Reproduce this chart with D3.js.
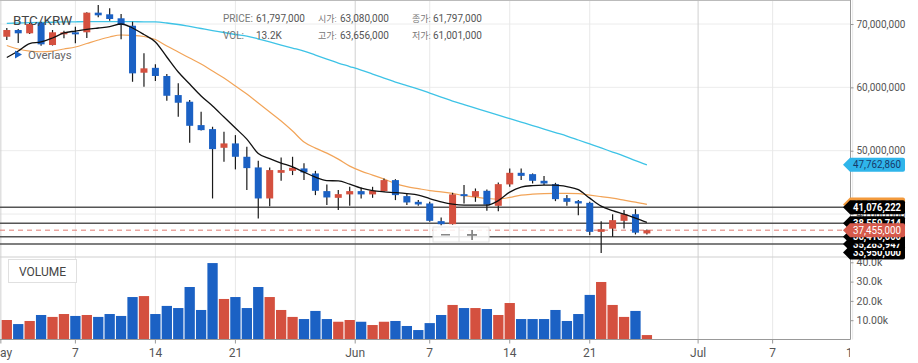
<!DOCTYPE html>
<html><head><meta charset="utf-8">
<script src="https://cdn.jsdelivr.net/npm/d3@7"></script>
<style>
body{margin:0;background:#fff;}
svg{display:block;font-family:Roboto,"Noto Sans CJK KR",sans-serif;}
</style>
</head><body>
<svg id="c" width="918" height="363"></svg>
<script>
// ---- data (prices in millions KRW, volume in thousands) ----
const openP  = [67.99,69.05,68.53,70.21,66.68,68.37,68.69,68.69,71.79,71.53,70.90,69.73,62.31,63.08,61.79,58.78,57.73,54.04,53.41,50.46,51.15,49.04,47.36,42.46,46.51,46.82,47.20,46.41,43.62,42.56,43.10,43.62,43.10,43.62,45.36,42.83,41.93,41.67,38.88,38.40,43.14,42.72,43.67,41.30,44.68,46.51,46.30,45.25,44.72,42.51,42.04,41.77,37.19,37.69,38.93,39.98,36.94];
const highP  = [69.37,69.21,70.16,70.36,69.05,68.94,69.57,71.85,73.00,72.48,71.58,70.36,65.37,63.656,62.10,60.63,58.00,56.15,53.78,52.99,52.46,50.62,48.40,47.36,48.94,49.04,48.00,46.82,44.68,43.78,44.30,44.20,44.30,45.62,45.51,43.25,42.20,41.93,39.46,43.35,44.57,44.04,43.89,44.99,47.20,47.20,46.41,45.99,44.93,42.99,42.20,41.93,38.88,39.98,40.62,40.77,37.57];
const lowP   = [67.47,67.00,68.42,66.57,66.60,67.74,66.95,67.79,71.06,70.52,67.58,60.88,60.09,61.001,57.88,55.36,51.25,53.17,42.46,48.25,47.05,43.78,39.30,41.25,45.25,46.15,45.36,42.99,41.41,40.62,41.30,42.46,42.56,43.51,42.20,41.41,41.30,38.77,38.25,38.33,41.67,41.93,40.54,40.46,44.30,45.36,44.83,44.57,42.04,41.30,39.83,36.67,33.87,36.40,37.73,36.78,36.78];
const closeP = [69.05,68.53,70.00,66.79,68.69,68.69,68.37,71.79,71.37,70.79,69.84,62.21,63.00,61.797,58.67,57.57,53.93,53.25,50.25,51.15,49.04,47.25,42.46,46.94,46.94,47.30,46.57,43.67,42.62,43.14,43.62,43.10,43.67,45.36,42.99,41.83,41.52,38.93,38.40,43.10,42.83,43.62,41.49,44.72,46.51,46.03,45.25,44.83,42.35,41.93,41.67,37.19,37.61,39.04,39.98,37.06,37.455];
const volumeK = [10.1,8.0,9.6,12.7,11.7,13.2,12.2,12.7,11.7,13.2,12.2,22.0,22.5,13.2,17.4,16.3,27.2,15.3,39.6,21.0,22.0,16.3,27.2,22.0,15.3,11.7,10.6,14.8,10.6,9.2,10.1,9.2,7.5,9.2,9.6,7.0,4.9,8.5,12.7,17.9,16.3,16.3,15.8,12.7,18.9,10.6,10.6,10.6,15.3,9.6,13.2,23.1,29.8,17.9,11.7,14.8,2.3];
const maShort = [64.71,65.73,66.92,67.16,67.79,68.58,68.89,69.16,69.37,69.57,70.00,69.37,68.34,67.16,64.79,62.42,60.52,58.63,57.05,55.31,53.57,51.83,49.54,48.75,48.04,47.45,46.62,45.83,45.28,45.24,44.71,44.08,43.70,43.51,43.38,43.22,42.99,42.43,41.93,41.56,41.41,41.41,41.41,42.12,43.46,44.25,44.49,44.57,44.57,44.33,43.85,42.51,41.25,40.54,39.98,39.35,38.67];
const maMid = [66.60,66.05,65.73,65.62,65.73,66.05,66.37,66.92,67.47,67.95,68.26,68.21,68.03,67.55,66.52,65.58,64.63,63.68,62.57,61.47,60.21,58.94,57.52,56.10,54.68,53.10,51.36,50.41,49.62,48.67,47.57,46.78,46.15,45.52,44.80,44.33,44.01,43.70,43.51,43.25,42.91,42.67,42.46,42.35,42.62,42.99,43.14,43.22,43.25,43.25,43.22,42.99,42.75,42.51,42.20,41.88,41.52];
const maLong = [70.11,70.16,70.21,70.25,70.28,70.32,70.35,70.36,70.38,70.38,70.38,70.36,70.35,70.32,70.16,69.92,69.61,69.29,68.97,68.66,68.34,68.10,67.63,67.16,66.68,66.21,65.73,65.10,64.47,63.84,63.29,62.73,62.10,61.47,60.84,60.28,59.73,59.10,58.47,57.84,57.28,56.73,56.18,55.62,55.07,54.52,53.97,53.41,52.86,52.31,51.69,51.06,50.43,49.79,49.16,48.44,47.762860];
const priceLines = [41.076222, 38.559714, 36.41, 35.283947];
const extraTag = 33.95;
const lastPrice = 37.455;
const priceTicks = [40,50,60,70];
const volTicks = [10,20,30,40];
const volTickLabels = ["10.00k","20.0k","30.0k","40.0k"];
const dayTicks = [6,13,20,37,44,51,67,74];
const dayTickLabels = ["7","14","21","7","14","21","7","14"];
const monthTicks = [-0.52,30.48,60.48];
const monthTickLabels = ["May","Jun","Jul"];
const header = [["PRICE:","61,797,000"],["VOL:","13.2K"],["시가:","63,080,000"],["고가:","63,656,000"],["종가:","61,797,000"],["저가:","61,001,000"]];

// ---- colors ----
const UP="#d4503f", DOWN="#1b61c4";

const svg=d3.select("#c");
const W=850, PB=257, VB=339.5;
const x=d3.scaleLinear().domain([0,56]).range([6.8,646.9]);
const y=d3.scaleLinear().domain([50,70]).range([150.7,24]);
const yv=d3.scaleLinear().domain([0,40]).range([VB,262.3]);
const fmt=d3.format(",");
const money=v=>fmt(Math.round(v*1e6));

const defs=svg.append("defs");
defs.append("clipPath").attr("id","cp").append("rect").attr("x",0).attr("y",0).attr("width",W).attr("height",PB);
defs.append("clipPath").attr("id","cv").append("rect").attr("x",0).attr("y",PB).attr("width",W).attr("height",VB-PB);
defs.append("clipPath").attr("id","cx").append("rect").attr("x",0).attr("y",VB).attr("width",W).attr("height",30);

// grid
const g=svg.append("g");
g.selectAll(".hg").data(priceTicks).join("line").attr("x1",0).attr("x2",W)
 .attr("y1",d=>y(d)).attr("y2",d=>y(d)).attr("stroke","#ececec");
g.selectAll(".dg").data(dayTicks).join("line").attr("x1",d=>x(d)).attr("x2",d=>x(d))
 .attr("y1",0).attr("y2",VB).attr("stroke","#e8e8e8");
g.selectAll(".mg").data(monthTicks).join("line").attr("x1",d=>x(d)).attr("x2",d=>x(d))
 .attr("y1",0).attr("y2",VB).attr("stroke","#d0d0d0");
svg.append("line").attr("x1",0).attr("x2",W).attr("y1",0.5).attr("y2",0.5).attr("stroke","#bbb");
svg.append("line").attr("x1",0).attr("x2",W).attr("y1",PB).attr("y2",PB).attr("stroke","#cfcfcf");

const idx=d3.range(openP.length);

// volume
svg.append("g").attr("clip-path","url(#cv)").selectAll("rect").data(idx).join("rect")
 .attr("x",i=>x(i)-5.15).attr("width",10.3)
 .attr("y",i=>yv(volumeK[i])).attr("height",i=>VB-yv(volumeK[i]))
 .attr("fill",i=>closeP[i]>=openP[i]?UP:DOWN);

// price pane
const pp=svg.append("g").attr("clip-path","url(#cp)");
pp.selectAll(".pl").data(priceLines).join("line").attr("x1",0).attr("x2",W)
 .attr("y1",d=>y(d)).attr("y2",d=>y(d)).attr("stroke","#555").attr("stroke-width",1.5);
pp.append("line").attr("x1",0).attr("x2",W).attr("y1",y(lastPrice)).attr("y2",y(lastPrice))
 .attr("stroke","#e07b72").attr("stroke-dasharray","5,4").attr("stroke-width",1);

const line=arr=>d3.line().x((d,i)=>x(i)).y(d=>y(d)).curve(d3.curveMonotoneX)(arr);
pp.append("path").attr("d",line(maLong)).attr("fill","none").attr("stroke","#3ec3e6").attr("stroke-width",1.3);
pp.append("path").attr("d",line(maMid)).attr("fill","none").attr("stroke","#f2a458").attr("stroke-width",1.2);

const cg=pp.append("g");
cg.selectAll(".w").data(idx).join("line").attr("x1",i=>x(i)).attr("x2",i=>x(i))
 .attr("y1",i=>y(highP[i])).attr("y2",i=>y(lowP[i])).attr("stroke","#1a1a1a").attr("stroke-width",1.2);
cg.selectAll(".b").data(idx).join("rect").attr("x",i=>x(i)-3.5).attr("width",7)
 .attr("y",i=>y(Math.max(openP[i],closeP[i])))
 .attr("height",i=>Math.max(1.5,Math.abs(y(openP[i])-y(closeP[i]))))
 .attr("fill",i=>closeP[i]>=openP[i]?UP:DOWN);
pp.append("path").attr("d",line(maShort)).attr("fill","none").attr("stroke","#111").attr("stroke-width",1.3);

// zoom control
const zc=svg.append("g");
zc.append("rect").attr("x",433).attr("y",227).attr("width",56).attr("height",15).attr("fill","#fff").attr("fill-opacity",0.85).attr("stroke","#e2e2e2");
zc.append("line").attr("x1",459).attr("x2",459).attr("y1",227).attr("y2",242).attr("stroke","#e2e2e2");
zc.append("rect").attr("x",441).attr("y",234).attr("width",9).attr("height",1.5).attr("fill","#888");
zc.append("rect").attr("x",467).attr("y",234).attr("width",10).attr("height",1.8).attr("fill","#888");
zc.append("rect").attr("x",471.2).attr("y",230).attr("width",1.8).attr("height",10).attr("fill","#888");

// axes lines
svg.append("line").attr("x1",W+0.5).attr("x2",W+0.5).attr("y1",0).attr("y2",VB).attr("stroke","#999");
svg.append("line").attr("x1",0).attr("x2",W+0.5).attr("y1",VB).attr("y2",VB).attr("stroke","#999");

const pa=svg.append("g").attr("transform",`translate(${W+0.5},0)`)
 .call(d3.axisRight(y).tickValues(priceTicks).tickSize(3).tickPadding(3).tickFormat(d=>fmt(d*1e6)));
pa.select(".domain").remove();
pa.selectAll("line").attr("stroke","#999");
pa.selectAll("text").attr("fill","#555").attr("font-size","10px").attr("font-family","Roboto");

const va=svg.append("g").attr("transform",`translate(${W+0.5},0)`)
 .call(d3.axisRight(yv).tickValues(volTicks).tickSize(3).tickPadding(3).tickFormat((d,i)=>volTickLabels[i]));
va.select(".domain").remove();
va.selectAll("line").attr("stroke","#999");
va.selectAll("text").attr("fill","#555").attr("font-size","10.5px").attr("font-family","Roboto");

const xa=svg.append("g").attr("clip-path","url(#cx)");
const allT=dayTicks.map((d,i)=>({v:d,l:dayTickLabels[i]})).concat(monthTicks.map((d,i)=>({v:d,l:monthTickLabels[i]})));
xa.selectAll("line").data(allT).join("line").attr("x1",d=>x(d.v)).attr("x2",d=>x(d.v))
 .attr("y1",VB).attr("y2",VB+4).attr("stroke","#999");
xa.selectAll("text").data(allT).join("text").attr("x",d=>x(d.v)).attr("y",357)
 .attr("text-anchor","middle").attr("font-size","12px").attr("fill","#555").text(d=>d.l);

// tags
function tag(v,fill,txtColor,weight,text){
  const yc=y(v), h=7;
  const t=svg.append("g");
  t.append("path").attr("d",`M843,${yc} L850,${yc-h} L903,${yc-h} Q905,${yc-h} 905,${yc-h+2} L905,${yc+h-2} Q905,${yc+h} 903,${yc+h} L850,${yc+h} Z`).attr("fill",fill);
  t.append("text").attr("x",853).attr("y",yc+3.6).attr("font-size","10px").attr("font-weight",weight)
   .attr("textLength",48).attr("lengthAdjust","spacingAndGlyphs")
   .attr("fill",txtColor).text(text);
}
tag(maLong[maLong.length-1],"#2fb5ea","#173a6a",400,money(maLong[maLong.length-1]));
tag(maMid[maMid.length-1],"#f39a3c","#fff",700,money(maMid[maMid.length-1]));
tag(extraTag,"#000","#fff",700,money(extraTag));
priceLines.slice().sort((a,b)=>a-b).forEach(v=>tag(v,"#000","#fff",700,money(v)));
tag(lastPrice,"#d65a4c","#fff",400,money(lastPrice));

// header
svg.append("text").attr("x",13).attr("y",25).attr("font-size","13.5px").attr("fill","#444").text("BTC/KRW");
svg.append("path").attr("d","M15,50.5 L22,54.5 L15,58.5 Z").attr("fill","#1a63c6");
svg.append("text").attr("x",28).attr("y",59).attr("font-size","11.5px").attr("fill","#666").text("Overlays");
const hx=[[223,256],[223,256],[318,340],[318,340],[412,433],[412,433]];
header.forEach((h,i)=>{
  const yy = i%2===0?22:39;
  const kor = i>=2;
  svg.append("text").attr("x",hx[i][0]).attr("y",yy).attr("font-size",kor?"9px":"10px").attr("fill","#777").text(h[0]);
  svg.append("text").attr("x",hx[i][1]).attr("y",yy).attr("font-size","10px").attr("fill","#555").text(h[1]);
});

// volume legend box
const vb=svg.append("g");
vb.append("rect").attr("x",8.5).attr("y",259.5).attr("width",68).attr("height",23).attr("fill","#fff").attr("stroke","#e0e0e0");
vb.append("text").attr("x",19).attr("y",275.5).attr("font-size","12px").attr("fill","#444").text("VOLUME");
</script>
</body></html>
